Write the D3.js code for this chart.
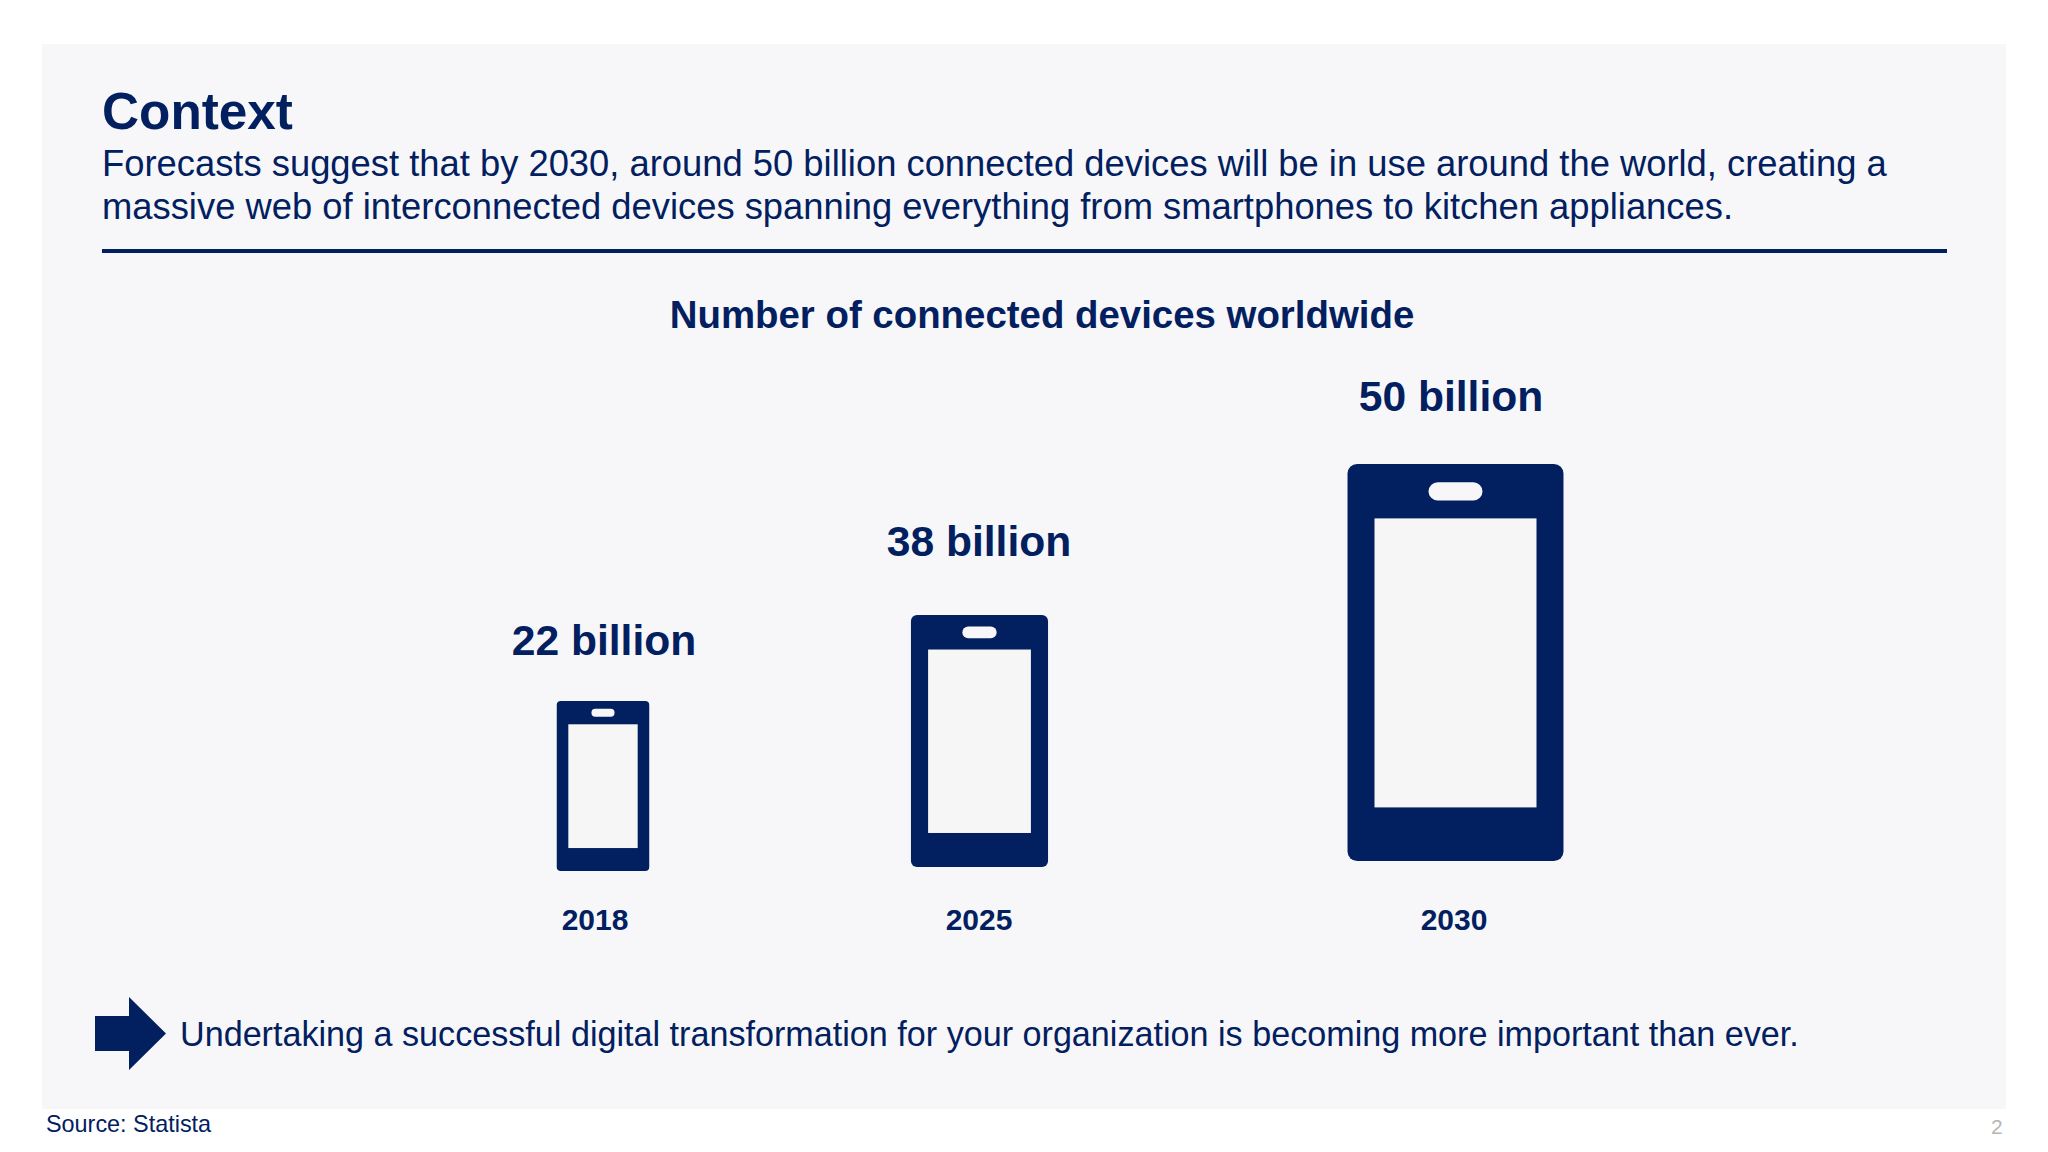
<!DOCTYPE html>
<html><head><meta charset="utf-8">
<script src="https://cdn.jsdelivr.net/npm/d3@7/dist/d3.min.js"></script>
<style>html,body{margin:0;padding:0;background:#fff}svg{display:block}text{font-family:"Liberation Sans",Arial,sans-serif;fill:#02205f}</style>
</head><body><svg id="c" width="2048" height="1152"></svg>
<script>
const years = ["2018","2025","2030"];
const billions = [22,38,50];
const valueLabels = ["22 billion","38 billion","50 billion"];
const NAVY="#02205f", PANEL="#f7f7f9", SCREEN="#f6f6f7";
const svg=d3.select("#c");
svg.append("rect").attr("x",42).attr("y",44).attr("width",1964).attr("height",1065).attr("fill",PANEL);
const T=(s,x,y,size,weight,anchor)=>svg.append("text").attr("x",x).attr("y",y).attr("font-size",size).attr("font-weight",weight||400).attr("text-anchor",anchor||"start").text(s);
T("Context",102,129,51.3,700);
T("Forecasts suggest that by 2030, around 50 billion connected devices will be in use around the world, creating a",102,176,36.36);
T("massive web of interconnected devices spanning everything from smartphones to kitchen appliances.",102,219,36.36);
svg.append("rect").attr("x",102).attr("y",249).attr("width",1845).attr("height",4).attr("fill",NAVY);
T("Number of connected devices worldwide",1042,328,38.4,700,"middle");

// pictorial scales: phone height by value, and column placement by year
const h=d3.scaleLinear().domain(billions).range([170,252,397]);
const xPos=d3.scaleOrdinal().domain(years).range([603,979.5,1455.5]);
const bottom=d3.scaleOrdinal().domain(years).range([871,867,861]);
const yearX=d3.scaleOrdinal().domain(years).range([595,979,1454]);
const labelX=d3.scaleOrdinal().domain(years).range([604,979,1451]);
const labelBase=d3.scaleOrdinal().domain(years).range([655,556,411]);
const ASPECT=.544;
const rows=years.map((y,i)=>({year:y,value:billions[i],label:valueLabels[i]}));
const g=svg.selectAll("g.phone").data(rows).join("g").attr("class","phone")
  .attr("transform",d=>`translate(${xPos(d.year)},${bottom(d.year)-h(d.value)})`);
g.append("rect").attr("x",d=>-h(d.value)*ASPECT/2).attr("y",0)
  .attr("width",d=>h(d.value)*ASPECT).attr("height",d=>h(d.value))
  .attr("rx",d=>h(d.value)*.024).attr("fill",NAVY);
g.append("rect").attr("x",d=>-h(d.value)*ASPECT*.375).attr("y",d=>h(d.value)*.137)
  .attr("width",d=>h(d.value)*ASPECT*.75).attr("height",d=>h(d.value)*.728).attr("fill",SCREEN);
g.append("rect").attr("x",d=>-h(d.value)*ASPECT*.125).attr("y",d=>h(d.value)*.046)
  .attr("width",d=>h(d.value)*ASPECT*.25).attr("height",d=>h(d.value)*.046)
  .attr("rx",d=>h(d.value)*.023).attr("fill",PANEL);
svg.selectAll("text.val").data(rows).join("text").attr("class","val")
  .attr("x",d=>labelX(d.year)).attr("y",d=>labelBase(d.year)).attr("text-anchor","middle")
  .attr("font-size",42.6).attr("font-weight",700).text(d=>d.label);
svg.selectAll("text.yr").data(rows).join("text").attr("class","yr")
  .attr("x",d=>yearX(d.year)).attr("y",930).attr("text-anchor","middle")
  .attr("font-size",30).attr("font-weight",700).text(d=>d.year);

svg.append("path").attr("d",d3.line()([[95,1016],[129,1016],[129,997],[166,1033.5],[129,1070],[129,1051],[95,1051]])+"Z").attr("fill",NAVY);
T("Undertaking a successful digital transformation for your organization is becoming more important than ever.",180,1046,34.15);
T("Source: Statista",46,1132,23.4);
T("2",1991,1134,21).style("fill","#b5b5b5");
</script></body></html>
